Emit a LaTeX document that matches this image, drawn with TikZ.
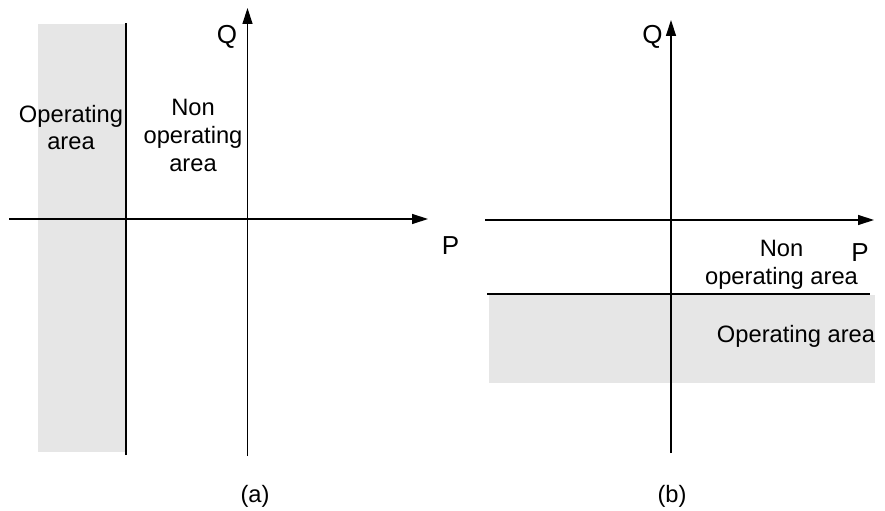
\documentclass[tikz,border=0pt]{standalone}
\usepackage{fontspec}
\setmainfont{Liberation Sans}
\usetikzlibrary{arrows.meta}
\definecolor{opgray}{RGB}{230,230,230}
\tikzset{
  axis/.style={line width=1.3bp, -{Triangle[length=16bp,width=10bp]}},
  bound/.style={line width=1.3bp},
  region/.style={fill=opgray, draw=none},
  txt/.style={inner sep=0pt, anchor=base, align=center, font=\fontsize{23.7bp}{28bp}\selectfont},
  axlabel/.style={inner sep=0pt, anchor=base, font=\fontsize{26bp}{30bp}\selectfont}
}
\begin{document}
\begin{tikzpicture}[x=1bp,y=-1bp]
\useasboundingbox (0,0) rectangle (885,511);
% ---- panel (a)
\fill[region] (38,24) rectangle (126,452);
\coordinate (a-bt) at (126,23);
\coordinate (a-bb) at (126,455);
\draw[bound] (a-bb) -- (a-bt);
\coordinate (a-q0) at (247.5,456);
\coordinate (a-q1) at (247.5,8);
\coordinate (a-p0) at (9,219);
\coordinate (a-p1) at (428,219);
\draw[axis] (a-p0) -- (a-p1);
\draw[axis] (a-q0) -- (a-q1);
\node[axlabel] (a-Q) at (227,44) {Q};
\node[axlabel] (a-P) at (450.5,255) {P};
\node[txt, font=\fontsize{23.7bp}{27bp}\selectfont] (a-op) at (71,150) {Operating\\area};
\node[txt] (a-non) at (193,172) {Non\\operating\\area};
\node[txt] (a-cap) at (255,502) {(a)};
% ---- panel (b)
\fill[region] (489,295) rectangle (875,383);
\coordinate (b-bl) at (487,294);
\coordinate (b-br) at (870,294);
\draw[bound] (b-bl) -- (b-br);
\coordinate (b-q0) at (671,453);
\coordinate (b-q1) at (671,20);
\coordinate (b-p0) at (485,220);
\coordinate (b-p1) at (874,220);
\draw[axis] (b-p0) -- (b-p1);
\draw[axis] (b-q0) -- (b-q1);
\node[axlabel] (b-Q) at (652.5,44) {Q};
\node[axlabel] (b-P) at (860,262) {P};
\node[txt] (b-non) at (781.5,285) {Non\\operating area};
\node[txt] (b-op) at (796,343) {Operating area};
\node[txt] (b-cap) at (672,502) {(b)};
\end{tikzpicture}
\end{document}
